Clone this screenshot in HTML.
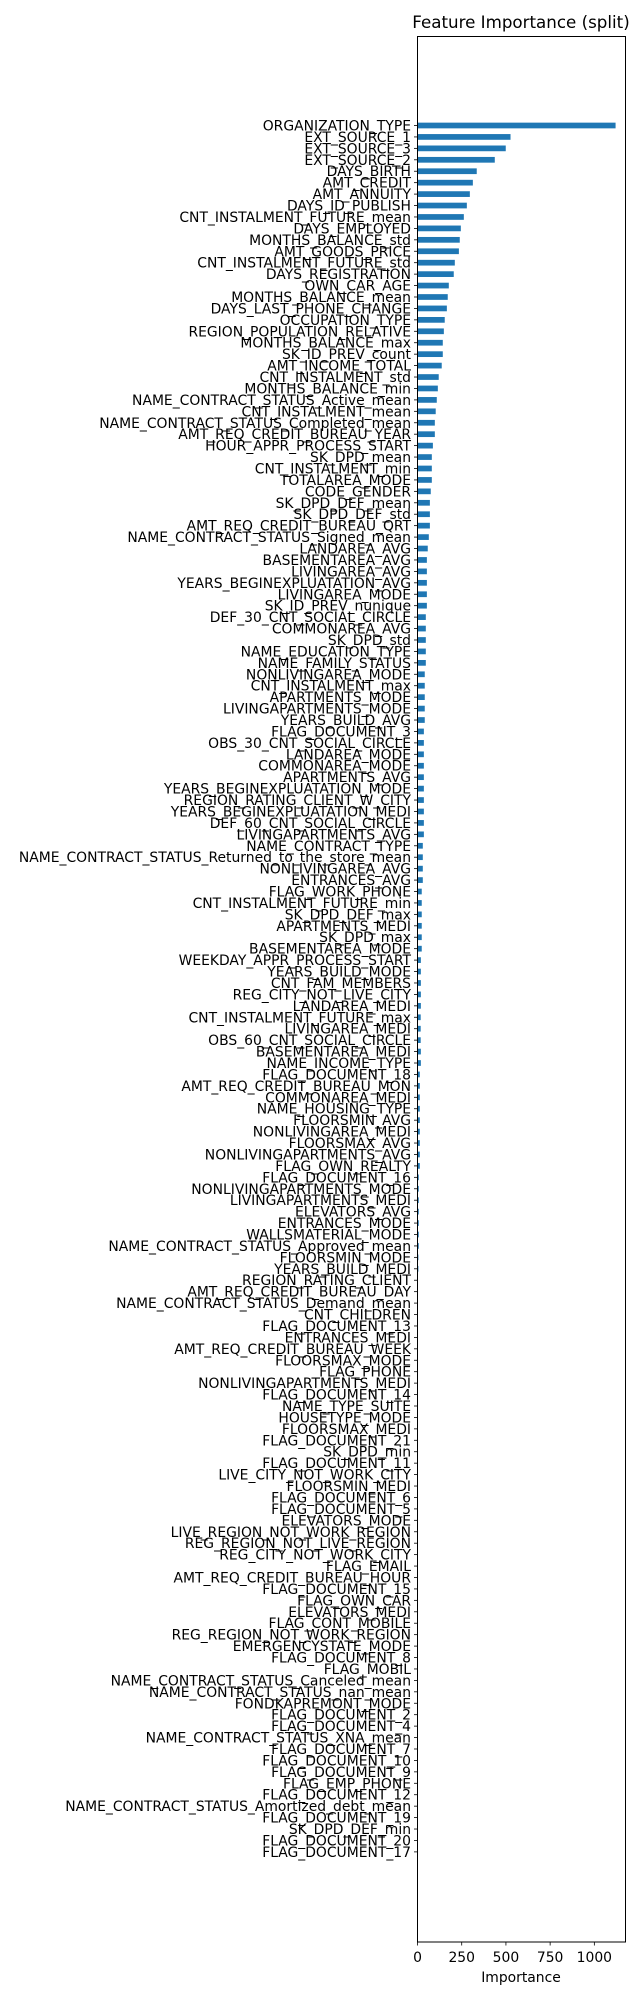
<!DOCTYPE html>
<html><head><meta charset="utf-8"><style>
html,body{margin:0;padding:0;background:#fff;}
svg{display:block;font-family:"DejaVu Sans","Liberation Sans",sans-serif;}
</style></head><body>
<svg id="chart" width="640" height="2000" viewBox="0 0 640 2000" xmlns="http://www.w3.org/2000/svg">
<rect x="0" y="0" width="640" height="2000" fill="#fff"/>
<text x="521" y="28" font-size="16.7" text-anchor="middle" fill="#000">Feature Importance (split)</text>
<g id="bars"></g>
<g id="ylabels"></g>
<g id="xticks"></g>
<rect x="417.5" y="36.5" width="208" height="1905.5" fill="none" stroke="#000" stroke-width="1"/>
<text x="521" y="1982" font-size="13.9" text-anchor="middle" fill="#000">Importance</text>
</svg>
<script>
const features = ["ORGANIZATION_TYPE","EXT_SOURCE_1","EXT_SOURCE_3","EXT_SOURCE_2","DAYS_BIRTH","AMT_CREDIT","AMT_ANNUITY","DAYS_ID_PUBLISH","CNT_INSTALMENT_FUTURE_mean","DAYS_EMPLOYED","MONTHS_BALANCE_std","AMT_GOODS_PRICE","CNT_INSTALMENT_FUTURE_std","DAYS_REGISTRATION","OWN_CAR_AGE","MONTHS_BALANCE_mean","DAYS_LAST_PHONE_CHANGE","OCCUPATION_TYPE","REGION_POPULATION_RELATIVE","MONTHS_BALANCE_max","SK_ID_PREV_count","AMT_INCOME_TOTAL","CNT_INSTALMENT_std","MONTHS_BALANCE_min","NAME_CONTRACT_STATUS_Active_mean","CNT_INSTALMENT_mean","NAME_CONTRACT_STATUS_Completed_mean","AMT_REQ_CREDIT_BUREAU_YEAR","HOUR_APPR_PROCESS_START","SK_DPD_mean","CNT_INSTALMENT_min","TOTALAREA_MODE","CODE_GENDER","SK_DPD_DEF_mean","SK_DPD_DEF_std","AMT_REQ_CREDIT_BUREAU_QRT","NAME_CONTRACT_STATUS_Signed_mean","LANDAREA_AVG","BASEMENTAREA_AVG","LIVINGAREA_AVG","YEARS_BEGINEXPLUATATION_AVG","LIVINGAREA_MODE","SK_ID_PREV_nunique","DEF_30_CNT_SOCIAL_CIRCLE","COMMONAREA_AVG","SK_DPD_std","NAME_EDUCATION_TYPE","NAME_FAMILY_STATUS","NONLIVINGAREA_MODE","CNT_INSTALMENT_max","APARTMENTS_MODE","LIVINGAPARTMENTS_MODE","YEARS_BUILD_AVG","FLAG_DOCUMENT_3","OBS_30_CNT_SOCIAL_CIRCLE","LANDAREA_MODE","COMMONAREA_MODE","APARTMENTS_AVG","YEARS_BEGINEXPLUATATION_MODE","REGION_RATING_CLIENT_W_CITY","YEARS_BEGINEXPLUATATION_MEDI","DEF_60_CNT_SOCIAL_CIRCLE","LIVINGAPARTMENTS_AVG","NAME_CONTRACT_TYPE","NAME_CONTRACT_STATUS_Returned_to_the_store_mean","NONLIVINGAREA_AVG","ENTRANCES_AVG","FLAG_WORK_PHONE","CNT_INSTALMENT_FUTURE_min","SK_DPD_DEF_max","APARTMENTS_MEDI","SK_DPD_max","BASEMENTAREA_MODE","WEEKDAY_APPR_PROCESS_START","YEARS_BUILD_MODE","CNT_FAM_MEMBERS","REG_CITY_NOT_LIVE_CITY","LANDAREA_MEDI","CNT_INSTALMENT_FUTURE_max","LIVINGAREA_MEDI","OBS_60_CNT_SOCIAL_CIRCLE","BASEMENTAREA_MEDI","NAME_INCOME_TYPE","FLAG_DOCUMENT_18","AMT_REQ_CREDIT_BUREAU_MON","COMMONAREA_MEDI","NAME_HOUSING_TYPE","FLOORSMIN_AVG","NONLIVINGAREA_MEDI","FLOORSMAX_AVG","NONLIVINGAPARTMENTS_AVG","FLAG_OWN_REALTY","FLAG_DOCUMENT_16","NONLIVINGAPARTMENTS_MODE","LIVINGAPARTMENTS_MEDI","ELEVATORS_AVG","ENTRANCES_MODE","WALLSMATERIAL_MODE","NAME_CONTRACT_STATUS_Approved_mean","FLOORSMIN_MODE","YEARS_BUILD_MEDI","REGION_RATING_CLIENT","AMT_REQ_CREDIT_BUREAU_DAY","NAME_CONTRACT_STATUS_Demand_mean","CNT_CHILDREN","FLAG_DOCUMENT_13","ENTRANCES_MEDI","AMT_REQ_CREDIT_BUREAU_WEEK","FLOORSMAX_MODE","FLAG_PHONE","NONLIVINGAPARTMENTS_MEDI","FLAG_DOCUMENT_14","NAME_TYPE_SUITE","HOUSETYPE_MODE","FLOORSMAX_MEDI","FLAG_DOCUMENT_21","SK_DPD_min","FLAG_DOCUMENT_11","LIVE_CITY_NOT_WORK_CITY","FLOORSMIN_MEDI","FLAG_DOCUMENT_6","FLAG_DOCUMENT_5","ELEVATORS_MODE","LIVE_REGION_NOT_WORK_REGION","REG_REGION_NOT_LIVE_REGION","REG_CITY_NOT_WORK_CITY","FLAG_EMAIL","AMT_REQ_CREDIT_BUREAU_HOUR","FLAG_DOCUMENT_15","FLAG_OWN_CAR","ELEVATORS_MEDI","FLAG_CONT_MOBILE","REG_REGION_NOT_WORK_REGION","EMERGENCYSTATE_MODE","FLAG_DOCUMENT_8","FLAG_MOBIL","NAME_CONTRACT_STATUS_Canceled_mean","NAME_CONTRACT_STATUS_nan_mean","FONDKAPREMONT_MODE","FLAG_DOCUMENT_2","FLAG_DOCUMENT_4","NAME_CONTRACT_STATUS_XNA_mean","FLAG_DOCUMENT_7","FLAG_DOCUMENT_10","FLAG_DOCUMENT_9","FLAG_EMP_PHONE","FLAG_DOCUMENT_12","NAME_CONTRACT_STATUS_Amortized_debt_mean","FLAG_DOCUMENT_19","SK_DPD_DEF_min","FLAG_DOCUMENT_20","FLAG_DOCUMENT_17"];
const importance = [1120,526,499,437,335,313,296,279,262,245,239,234,211,205,177,171,166,154,149,143,143,137,120,115,109,103,98,98,87,81,81,81,75,70,70,70,64,58,53,53,53,53,53,47,47,47,47,47,41,41,41,41,41,36,36,36,36,36,36,36,36,36,36,30,30,30,30,24,24,24,24,24,24,19,19,19,19,19,18,18,18,19,19,13,13,13,13,13,13,13,13,13,7,7,7,7,7,7,7,5,5,0,0,0,0,0,0,0,0,0,0,0,0,0,0,0,0,0,0,0,0,0,0,0,0,0,0,0,0,0,0,0,0,0,0,0,0,0,0,0,0,0,0,0,0,0,0,0,0,0,0,0,0,0];
const xTicks = [0,250,500,750,1000];
const xTickLabels = ["0","250","500","750","1000"];

const NS = "http://www.w3.org/2000/svg";
const plotLeft = 417.5, pxPerUnit = 0.17685;
const rowTop = 125.5, rowStep = 11.433;
function xScale(v){ return plotLeft + v * pxPerUnit; }
function yScale(i){ return rowTop + i * rowStep; }
const barH = rowStep * 0.5;

const barsG = document.getElementById('bars');
const labelsG = document.getElementById('ylabels');
features.forEach((f, i) => {
  const v = importance[i] || 0;
  const yc = yScale(i);
  if (v > 0) {
    const r = document.createElementNS(NS, 'rect');
    
    
    r.setAttribute('x', xScale(0));
    r.setAttribute('y', yc - barH / 2);
    r.setAttribute('width', xScale(v) - xScale(0));
    r.setAttribute('height', barH);
    r.setAttribute('fill', '#1f77b4');
    barsG.appendChild(r);
  }
  const tk = document.createElementNS(NS, 'line');
  
  
  tk.setAttribute('x1', plotLeft - 3.5); tk.setAttribute('x2', plotLeft);
  tk.setAttribute('y1', yc); tk.setAttribute('y2', yc);
  tk.setAttribute('stroke', '#000'); tk.setAttribute('stroke-width', '0.8');
  labelsG.appendChild(tk);
  const t = document.createElementNS(NS, 'text');
  
  
  t.setAttribute('x', plotLeft - 6.5);
  t.setAttribute('y', yc + 5);
  t.setAttribute('font-size', '13.9');
  t.setAttribute('text-anchor', 'end');
  t.setAttribute('fill', '#000');
  t.textContent = f;
  labelsG.appendChild(t);
});

const xG = document.getElementById('xticks');
const axisBottom = 1942;
xTicks.forEach((v, i) => {
  const x = xScale(v);
  const l = document.createElementNS(NS, 'line');
  
  
  l.setAttribute('x1', x); l.setAttribute('x2', x);
  l.setAttribute('y1', axisBottom); l.setAttribute('y2', axisBottom + 3.5);
  l.setAttribute('stroke', '#000'); l.setAttribute('stroke-width', '0.8');
  xG.appendChild(l);
  const t = document.createElementNS(NS, 'text');
  
  
  t.setAttribute('x', x);
  t.setAttribute('y', axisBottom + 20);
  t.setAttribute('font-size', '13.9');
  t.setAttribute('text-anchor', 'middle');
  t.setAttribute('fill', '#000');
  t.textContent = xTickLabels[i];
  xG.appendChild(t);
});
</script>
</body></html>
